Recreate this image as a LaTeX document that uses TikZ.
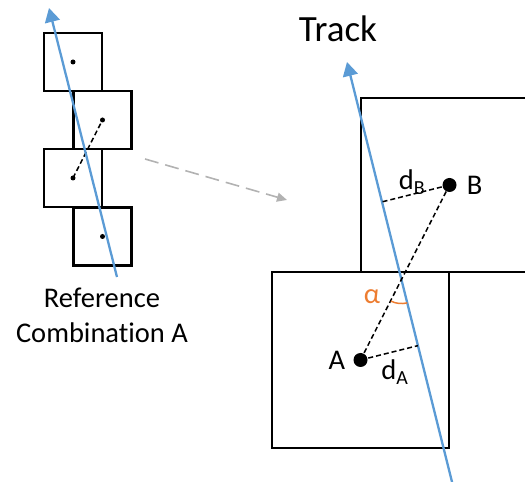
\documentclass[tikz,border=0pt]{standalone}
\usepackage{fontspec}
\setmainfont{Carlito}[Ligatures=NoCommon]
\usetikzlibrary{arrows.meta,calc,positioning}
\definecolor{trackblue}{HTML}{5B9BD5}
\definecolor{angleorange}{HTML}{ED7D31}

\begin{document}
\begin{tikzpicture}[x=1pt,y=1pt,
  cell/.style={draw,line width=2.6pt,minimum width=58pt,minimum height=58pt,inner sep=0pt},
  bigcell/.style={draw,line width=2.6pt,minimum width=177pt,inner sep=0pt},
  dot/.style={circle,fill,inner sep=0pt,minimum size=#1},
  lbl/.style={font=\fontsize{28.5}{35}\selectfont,inner sep=0pt},
  track/.style={trackblue,line width=2.3pt,-{Triangle[length=14pt,width=15pt]}},
  link/.style={dash pattern=on 5pt off 3pt,line width=1.5pt}]
\useasboundingbox (0,0) rectangle (525,482);
\node[cell] (s1) at (73,420) {};
\node[cell] (s2) at (102.5,362) {};
\node[cell] (s3) at (73,304) {};
\node[cell] (s4) at (102.5,245.5) {};
\foreach \i in {1,...,4} \node[dot=5pt] (p\i) at (s\i) {};
\draw[link] (p3.center) -- (p2.center);
\coordinate (t0) at (117,205);
\coordinate (t1) at (49,474);
\draw[track] (t0) -- (t1);
\node[lbl,align=center,anchor=base] (ref) at (102,139) {Reference\\Combination A};
\coordinate (g0) at (145,323);
\coordinate (g1) at (287,282);
\draw[gray!60,line width=1.6pt,dash pattern=on 14pt off 7pt,-{Triangle[length=10pt,width=9pt]}] (g0) -- (g1);
\node[bigcell,minimum height=176pt] (sqA) at (360.5,122) {};
\node[bigcell,minimum height=174pt] (sqB) at (449.5,297) {};
\node[dot=14pt] (A) at (sqA.center) {};
\node[dot=14pt] (B) at (sqB.center) {};
\node[lbl,left=8pt of A] (labA) {A};
\node[lbl,right=10pt of B] (labB) {B};
\coordinate (k0) at (452.5,-2);
\coordinate (k1) at (347,420);
\draw[track] (k0) -- (k1);
\node[lbl,font=\fontsize{37}{42}\selectfont,anchor=base] (title) at (338,440) {Track};
\draw[link] (A.center) -- (B.center);
\draw[link] (B.center) -- ($(k0)!(B.center)!(k1)$) coordinate (fB);
\draw[link] (A.center) -- ($(k0)!(A.center)!(k1)$) coordinate (fA);
\node[lbl] (dB) at (412,300) {d\textsubscript{B}};
\node[lbl] (dA) at (395,110) {d\textsubscript{A}};
\coordinate (X) at (intersection of A--B and k0--k1);
\draw[angleorange,line width=1.5pt] (X) ++(-116:24) arc[start angle=-116,end angle=-76,radius=24];
\node[lbl,text=angleorange] (alpha) at (372,185) {α};
\end{tikzpicture}
\end{document}
